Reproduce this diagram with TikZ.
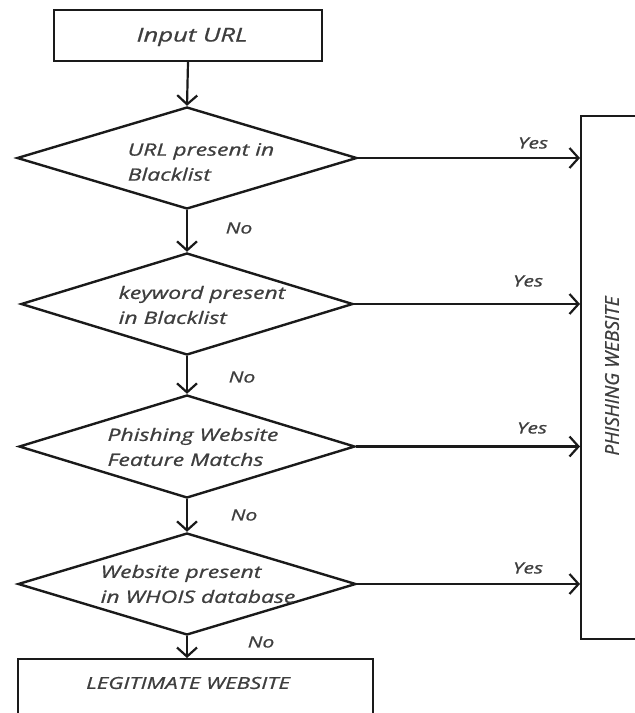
\documentclass[tikz,border=0pt]{standalone}
\usepackage{fontspec}
\setmainfont{Open Sans}[FakeStretch=1.35,FakeBold=0.9]
\newfontfamily\plainfont{Open Sans}[FakeBold=0.9]
\usetikzlibrary{shapes.geometric,arrows.meta}
\definecolor{txtgray}{HTML}{3E3E3E}
\definecolor{linecol}{HTML}{1A1A1A}
\begin{document}
\begin{tikzpicture}[x=1pt,y=-1pt,
  boxstyle/.style={draw=linecol,line width=2.4pt,rectangle,inner sep=0pt},
  decision/.style={draw=linecol,line width=2.4pt,diamond,inner sep=0pt},
  txt/.style={text=txtgray,font=\fontsize{17}{25}\selectfont\itshape,align=left,inner sep=0pt},
  lbl/.style={text=txtgray,font=\fontsize{15.5}{18}\selectfont\itshape,inner sep=0pt},
  flow/.style={draw=linecol,line width=2.2pt,-{Straight Barb[length=9pt,width=20pt,line width=2.2pt]}}]
\useasboundingbox (0,0) rectangle (635,713);
\clip (0,0) rectangle (635,713);
% boxes
\node[boxstyle,minimum width=268,minimum height=51] (inp) at (188,35.5) {};
\node[txt] (inptxt) at (192,37) {\fontsize{19}{22}\selectfont Input URL};
\node[decision,minimum width=340,minimum height=102] (d1) at (187,158) {};
\node[decision,minimum width=332,minimum height=102] (d2) at (187,304) {};
\node[decision,minimum width=336,minimum height=103] (d3) at (187,446.5) {};
\node[decision,minimum width=338,minimum height=102] (d4) at (187,584) {};
\node[txt] (t1) at (201,162) {URL present in\\Blacklist};
\node[txt] (t2) at (202,305) {keyword present\\in Blacklist};
\node[txt] (t3) at (193,447) {Phishing Website\\Feature Matchs};
\node[txt] (t4) at (198,584) {Website present\\in WHOIS database};
\node[boxstyle,minimum width=355,minimum height=110,anchor=north] (legit) at (195.5,658) {};
\node[txt] (legittxt) at (188,683) {\fontsize{16.5}{18}\selectfont LEGITIMATE WEBSITE};
\node[boxstyle,minimum width=110,minimum height=523,anchor=north west] (phish) at (580,115) {};
\node[txt,rotate=90] (phishtxt) at (612,376) {\plainfont\itshape\fontsize{19}{22}\selectfont PHISHING WEBSITE};
% vertical flow
\draw[flow] (inp.south) -- (d1.north);
\draw[flow] (d1.south) -- (d2.north);
\draw[flow] (d2.south) -- (d3.north);
\draw[flow] (d3.south) -- (d4.north);
\draw[flow] (d4.south) -- (d4.south |- legit.north);
% horizontal flow
\draw[flow] (d1.east) -- (d1.east -| phish.west);
\draw[flow] (d2.east) -- (d2.east -| phish.west);
\draw[flow] (d3.east) -- (d3.east -| phish.west);
\draw[flow] (d4.east) -- (d4.east -| phish.west);
% labels
\node[lbl] (no1) at (239,228) {No};
\node[lbl] (no2) at (242,377) {No};
\node[lbl] (no3) at (244,515) {No};
\node[lbl] (no4) at (261,642) {No};
\node[lbl] (y1) at (533,143) {Yes};
\node[lbl] (y2) at (528,281) {Yes};
\node[lbl] (y3) at (532,428) {Yes};
\node[lbl] (y4) at (528,568) {Yes};
\end{tikzpicture}
\end{document}
